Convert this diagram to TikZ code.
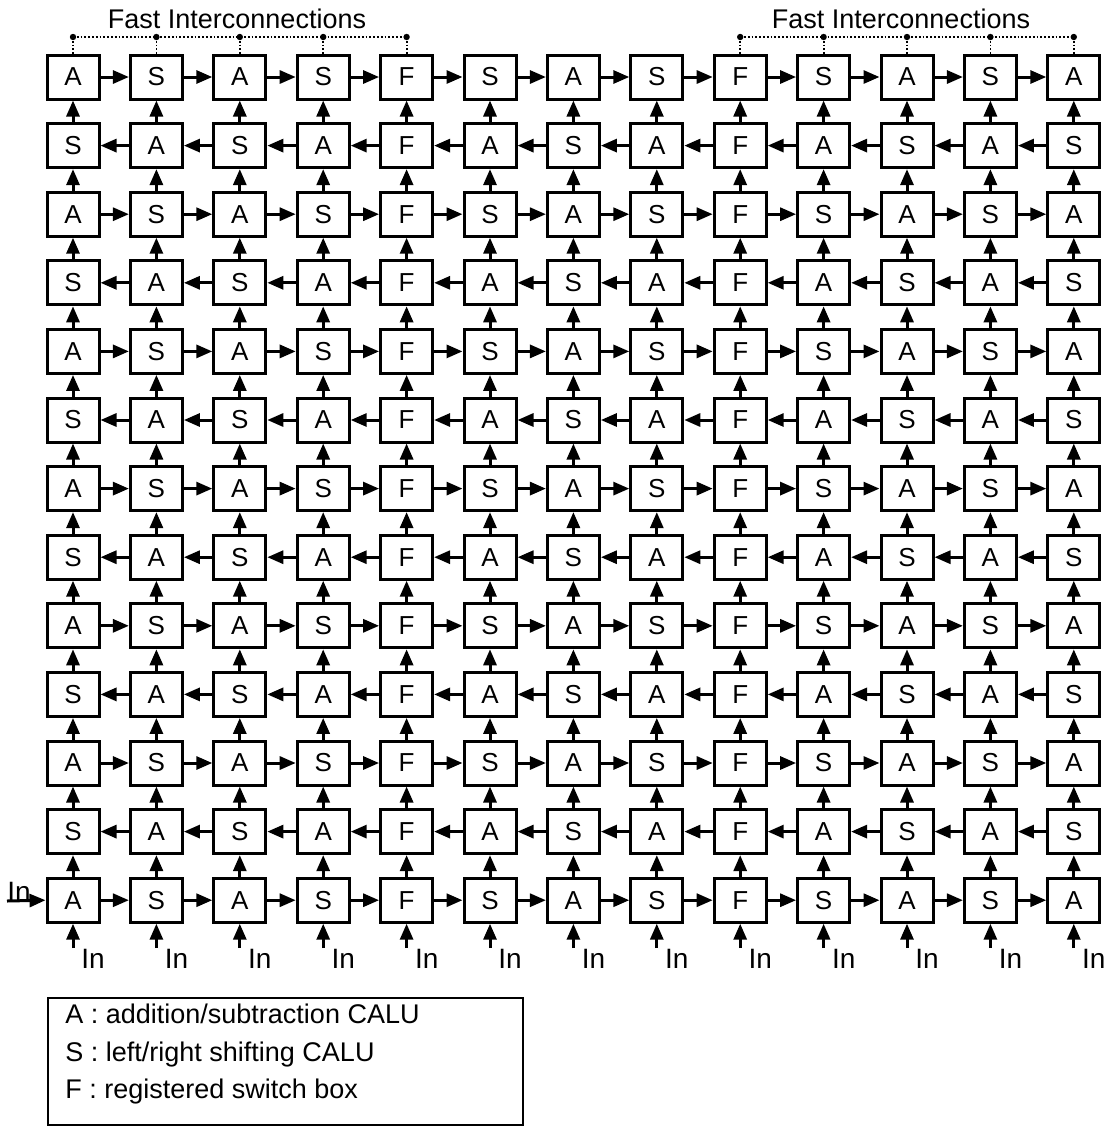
\documentclass[tikz,border=0pt]{standalone}
\usepackage{fontspec}
\setmainfont{Liberation Sans}
\usetikzlibrary{arrows.meta}

\tikzset{
  cell/.style={draw, line width=1.5pt, minimum width=26pt, minimum height=22pt, inner sep=0pt, font=\fontsize{13}{13}\selectfont},
  flow/.style={line width=1.5pt, -{Triangle[length=8pt,width=6.5pt]}},
  fastlink/.style={densely dotted, line width=0.9pt},
  inlabel/.style={font=\fontsize{14}{14}\selectfont, inner sep=0pt},
  legendtext/.style={font=\fontsize{13.5}{14}\selectfont, anchor=base west, inner sep=0pt},
}

\begin{document}
\begin{tikzpicture}[x=0.5pt, y=-0.5pt]
  \useasboundingbox (0,0) rectangle (1120,1126);
  % CALU array (A / S), columns 5 and 9 are switch boxes
  \foreach \r in {1,...,13} {
    \foreach \c in {1,...,13} {
      \pgfmathtruncatemacro{\kind}{mod(\r+\c,2)}
      \node[cell] (n-\r-\c) at ({73+(\c-1)*83.4},{77+(\r-1)*68.6})
        {\ifnum\c=5 F\else\ifnum\c=9 F\else\ifnum\kind=0 A\else S\fi\fi\fi};
    }
  }
  % Row links, direction alternates (bottom row runs right)
  \foreach \r in {1,...,13} {
    \foreach \c in {1,...,12} {
      \pgfmathtruncatemacro{\cn}{\c+1}
      \pgfmathtruncatemacro{\odd}{mod(\r,2)}
      \ifnum\odd=1
        \draw[flow] (n-\r-\c) -- (n-\r-\cn);
      \else
        \draw[flow] (n-\r-\cn) -- (n-\r-\c);
      \fi
    }
  }
  % Column links, upwards
  \foreach \r in {1,...,12} {
    \pgfmathtruncatemacro{\rn}{\r+1}
    \foreach \c in {1,...,13} {
      \draw[flow] (n-\rn-\c) -- (n-\r-\c);
    }
  }
  % Inputs
  \foreach \c in {1,...,13} {
    \coordinate (in-\c) at ({73+(\c-1)*83.4},948);
    \draw[flow] (in-\c) -- (n-13-\c);
    \node[inlabel, anchor=base west] (inlbl-\c) at ({81+(\c-1)*83.4},968) {In};
  }
  \node[inlabel, anchor=base west] (inleft) at (7,901) {In};
  \draw[flow] (inleft.base west) -- (n-13-1.west);
  % Fast interconnections
  \foreach \c in {1,...,5,9,10,...,13} {
    \coordinate (fa-\c) at ({73+(\c-1)*83.4},37);
    \draw[fastlink] (fa-\c) -- (n-1-\c.north);
    \fill (fa-\c) circle (1.6pt);
  }
  \draw[fastlink] (fa-1) -- (fa-5);
  \draw[fastlink] (fa-9) -- (fa-13);
  \node[font=\fontsize{13.5}{14}\selectfont, anchor=base] (fastL) at (237,28) {Fast Interconnections};
  \node[font=\fontsize{13.5}{14}\selectfont, anchor=base] (fastR) at (901,28) {Fast Interconnections};
  % Legend
  \node[draw, line width=1pt, anchor=north west, minimum width=237.5pt, minimum height=63.5pt, inner sep=0pt] (legend) at (47,997) {};
  \node[legendtext] (legend-1) at (65,1023) {A : addition/subtraction CALU};
  \node[legendtext] (legend-2) at (65,1061) {S : left/right shifting CALU};
  \node[legendtext] (legend-3) at (65,1098) {F : registered switch box};
\end{tikzpicture}
\end{document}
